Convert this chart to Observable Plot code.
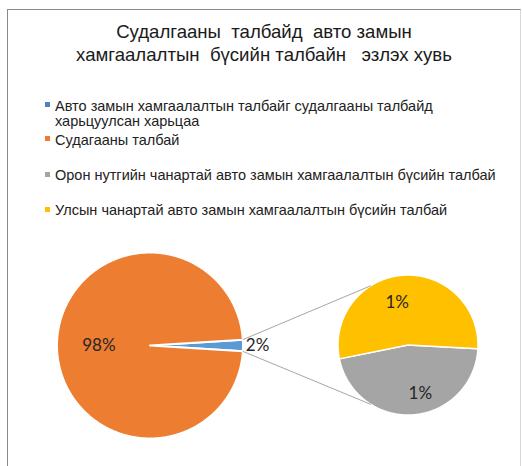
<!DOCTYPE html>
<html><head><meta charset="utf-8">
<script src="https://cdn.jsdelivr.net/npm/d3@7"></script>
<script src="https://cdn.jsdelivr.net/npm/@observablehq/plot@0.6"></script>
<style>
body{margin:0;background:#fff;}
#wrap{position:relative;width:522px;height:466px;overflow:hidden;font-family:"Liberation Sans",Arial,sans-serif;}
#frame{position:absolute;left:7px;top:9px;width:512px;height:480px;border-top:1.5px solid #8a8a8a;border-left:1.5px solid #8a8a8a;border-right:1px solid #d8d8d8;}
.title{position:absolute;left:0;width:528px;text-align:center;font-size:18.6px;line-height:23.5px;color:#1a1a1a;white-space:pre;}
.leg{position:absolute;left:55px;font-size:14.5px;line-height:15.5px;color:#222;white-space:pre;}
.sw{position:absolute;left:45px;width:5px;height:5px;}
#chart{position:absolute;left:0;top:240px;}
</style></head>
<body>
<div id="wrap">
  <div id="frame"></div>
  <div id="title" class="title" style="top:19.5px"></div>
  <div id="legend"></div>
  <div id="chart"></div>
</div>
<script>
// ---- data ----
const titleLines = ["Судалгааны  талбайд  авто замын", "хамгаалалтын  бүсийн талбайн   эзлэх хувь"];
const mainCategories = ["Авто замын хамгаалалтын талбайг судалгааны талбайд\nхарьцуулсан харьцаа", "Судагааны талбай"];
const mainValues = [2, 98];
const subCategories = ["Орон нутгийн чанартай авто замын хамгаалалтын бүсийн талбай", "Улсын чанартай авто замын хамгаалалтын бүсийн талбай"];
const subValues = [0.92, 1.08];
const mainColors = ["#5b9bd5", "#ed7d31"];
const subColors = ["#a5a5a5", "#ffc000"];
const legendColors = ["#4f81bd", "#ed7d31", "#a5a5a5", "#ffc000"];

// ---- title & legend (HTML) ----
document.getElementById("title").textContent = titleLines.join("\n");
const legendLabels = [...mainCategories, ...subCategories];
const legendBaselines = [111.7, 145.3, 181, 216];
const legEl = document.getElementById("legend");
legendLabels.forEach((label, i) => {
  const t = document.createElement("div");
  t.className = "leg";
  t.style.top = (legendBaselines[i] - 12.8) + "px";
  t.textContent = label;
  legEl.appendChild(t);
  const s = document.createElement("div");
  s.className = "sw";
  s.style.top = (legendBaselines[i] - 9.5) + "px";
  s.style.background = legendColors[i];
  legEl.appendChild(s);
});

// ---- pie geometry (units: main pie radius = 1) ----
const pxPerUnit = 93;
const W = 522, H = 226;
const c1 = [0, 0], r1 = 1;
const c2 = [258 / pxPerUnit, 0.005], r2 = 70 / pxPerUnit;
const TAU = Math.PI * 2, DEG = Math.PI / 180;

const mainTotal = d3.sum(mainValues);
const mainStart = Math.PI / 2 - Math.PI * mainValues[0] / mainTotal;
const mainArcs = d3.pie().sort(null).startAngle(mainStart).endAngle(mainStart + TAU)(mainValues);
const subStart = 93 * DEG;
const subArcs = d3.pie().sort(null).startAngle(subStart).endAngle(subStart + TAU)(subValues);

function pt(c, r, a) { return {x: c[0] + r * Math.sin(a), y: c[1] + r * Math.cos(a)}; }
function slice(c, r, a0, a1) {
  const pts = [{x: c[0], y: c[1]}];
  const n = Math.max(2, Math.ceil((a1 - a0) / (0.5 * DEG)));
  for (let i = 0; i <= n; i++) pts.push(pt(c, r, a0 + (a1 - a0) * i / n));
  return pts;
}

const marks = [];
mainArcs.forEach((a, i) => marks.push(Plot.line(slice(c1, r1, a.startAngle, a.endAngle), {x: "x", y: "y", curve: "linear-closed", fill: mainColors[i], stroke: "white", strokeWidth: 2})));
subArcs.forEach((a, i) => marks.push(Plot.line(slice(c2, r2, a.startAngle, a.endAngle), {x: "x", y: "y", curve: "linear-closed", fill: subColors[i], stroke: "white", strokeWidth: 1.5})));

// connector lines from the small slice to the second pie
const connectorAngles = [328 * DEG, 212 * DEG];
const blue = mainArcs[0];
const links = [
  {a: pt(c1, r1, blue.startAngle), b: pt(c2, r2, connectorAngles[0])},
  {a: pt(c1, r1, blue.endAngle), b: pt(c2, r2, connectorAngles[1])}
];
marks.push(Plot.link(links, {x1: d => d.a.x, y1: d => d.a.y, x2: d => d.b.x, y2: d => d.b.y, stroke: "#a6a6a6", strokeWidth: 1}));

// labels
const pct = v => Math.round(v) + "%";
const mainLabelPos = mainArcs.map((a, i) => {
  const mid = (a.startAngle + a.endAngle) / 2;
  const p = i === 0 ? pt(c1, 1.03, mid) : pt(c1, 0.55, mid);
  return {...p, text: pct(a.value), anchor: i === 0 ? "start" : "middle"};
});
const subLabelShift = -10 * DEG;
const subLabelR = [0.72, 0.63];
const subLabelPos = subArcs.map((a, i) => {
  const mid = (a.startAngle + a.endAngle) / 2 + subLabelShift;
  return {...pt(c2, r2 * subLabelR[i], mid), text: pct(a.value)};
});
const textStyle = {fontFamily: "Lato, 'Open Sans', sans-serif", fontSize: 17, fill: "#262626"};
marks.push(Plot.text(mainLabelPos.filter(d => d.anchor === "start"), {x: "x", y: "y", text: "text", textAnchor: "start", ...textStyle}));
marks.push(Plot.text(mainLabelPos.filter(d => d.anchor === "middle"), {x: "x", y: "y", text: "text", ...textStyle}));
marks.push(Plot.text(subLabelPos, {x: "x", y: "y", text: "text", ...textStyle}));

const cxPx = 149.5, cyTop = 105; // main pie centre in SVG px
const chart = Plot.plot({
  width: W, height: H, margin: 0,
  x: {domain: [-cxPx / pxPerUnit, (W - cxPx) / pxPerUnit], axis: null},
  y: {domain: [-(H - cyTop) / pxPerUnit, cyTop / pxPerUnit], axis: null},
  style: {background: "transparent"},
  marks
});
document.getElementById("chart").appendChild(chart);
</script>
</body></html>
